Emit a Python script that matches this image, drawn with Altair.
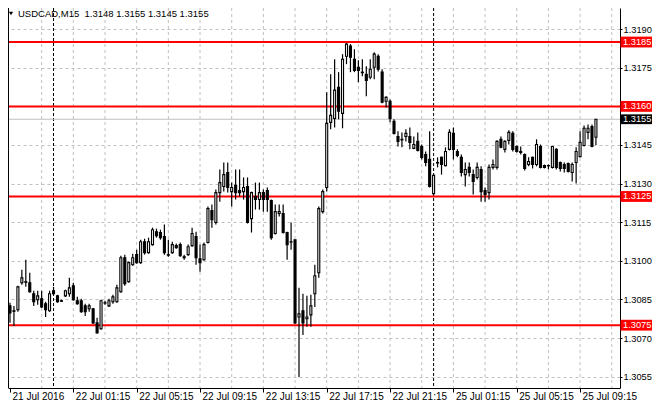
import altair as alt
import pandas as pd

symbol = "USDCAD,M15"

opens = [
    1.30825, 1.30806, 1.30810, 1.30915, 1.30919, 1.30915, 1.30872, 1.30849, 1.30853, 1.30833,
    1.30806, 1.30884, 1.30864, 1.30845, 1.30864, 1.30872, 1.30903, 1.30845, 1.30845, 1.30825,
    1.30814, 1.30814, 1.30759, 1.30736, 1.30837, 1.30825, 1.30841, 1.30841, 1.30880, 1.31012,
    1.30919, 1.30985, 1.31024, 1.30993, 1.31074, 1.31032, 1.31063, 1.31113, 1.31110, 1.31094,
    1.31024, 1.31032, 1.31059, 1.31063, 1.31012, 1.31024, 1.31059, 1.31094, 1.31008, 1.31004,
    1.31071, 1.31195, 1.31149, 1.31265, 1.31289, 1.31343, 1.31269, 1.31293, 1.31273, 1.31269,
    1.31289, 1.31164, 1.31250, 1.31238, 1.31265, 1.31273, 1.31234, 1.31106, 1.31184, 1.31184,
    1.31110, 1.31074, 1.31082, 1.30782, 1.30806, 1.30775, 1.30790, 1.30872, 1.30954, 1.31191,
    1.31285, 1.31538, 1.31553, 1.31674, 1.31573, 1.31795, 1.31834, 1.31783, 1.31752, 1.31733,
    1.31725, 1.31713, 1.31752, 1.31795, 1.31733, 1.31620, 1.31620, 1.31542, 1.31483, 1.31472,
    1.31483, 1.31483, 1.31437, 1.31464, 1.31444, 1.31413, 1.31394, 1.31261, 1.31382, 1.31402,
    1.31370, 1.31433, 1.31495, 1.31425, 1.31402, 1.31335, 1.31363, 1.31335, 1.31324, 1.31355,
    1.31273, 1.31265, 1.31363, 1.31363, 1.31472, 1.31433, 1.31468, 1.31495, 1.31444, 1.31425,
    1.31413, 1.31374, 1.31402, 1.31374, 1.31444, 1.31370, 1.31370, 1.31363, 1.31433, 1.31382,
    1.31374, 1.31378, 1.31343, 1.31382, 1.31405, 1.31448, 1.31499, 1.31522, 1.31480,
]
highs = [
    1.30837, 1.30825, 1.30903, 1.30965, 1.31004, 1.30954, 1.30884, 1.30884, 1.30884, 1.30841,
    1.30884, 1.30899, 1.30868, 1.30849, 1.30888, 1.30934, 1.30915, 1.30860, 1.30853, 1.30833,
    1.30833, 1.30817, 1.30779, 1.30849, 1.30845, 1.30853, 1.30868, 1.30907, 1.31020, 1.31024,
    1.30997, 1.31028, 1.31043, 1.31082, 1.31086, 1.31090, 1.31129, 1.31125, 1.31121, 1.31141,
    1.31082, 1.31074, 1.31067, 1.31071, 1.31024, 1.31063, 1.31129, 1.31113, 1.31063, 1.31071,
    1.31211, 1.31219, 1.31277, 1.31355, 1.31382, 1.31382, 1.31304, 1.31355, 1.31355, 1.31324,
    1.31324, 1.31269, 1.31304, 1.31304, 1.31277, 1.31285, 1.31238, 1.31219, 1.31219, 1.31219,
    1.31113, 1.31149, 1.31082, 1.30895, 1.30872, 1.30864, 1.30868, 1.30985, 1.31211, 1.31277,
    1.31655, 1.31725, 1.31783, 1.31733, 1.31803, 1.31846, 1.31842, 1.31822, 1.31779, 1.31783,
    1.31756, 1.31783, 1.31810, 1.31803, 1.31744, 1.31639, 1.31627, 1.31550, 1.31503, 1.31499,
    1.31511, 1.31518, 1.31483, 1.31499, 1.31452, 1.31425, 1.31503, 1.31335, 1.31402, 1.31405,
    1.31441, 1.31511, 1.31518, 1.31433, 1.31413, 1.31382, 1.31382, 1.31355, 1.31382, 1.31367,
    1.31285, 1.31374, 1.31394, 1.31468, 1.31483, 1.31468, 1.31507, 1.31503, 1.31448, 1.31444,
    1.31417, 1.31402, 1.31405, 1.31472, 1.31452, 1.31374, 1.31374, 1.31446, 1.31437, 1.31386,
    1.31382, 1.31382, 1.31382, 1.31441, 1.31503, 1.31526, 1.31530, 1.31530, 1.31550,
]
lows = [
    1.30759, 1.30747, 1.30802, 1.30907, 1.30899, 1.30876, 1.30825, 1.30829, 1.30817, 1.30782,
    1.30802, 1.30868, 1.30837, 1.30841, 1.30860, 1.30860, 1.30845, 1.30829, 1.30798, 1.30786,
    1.30802, 1.30755, 1.30718, 1.30732, 1.30829, 1.30821, 1.30833, 1.30837, 1.30876, 1.30903,
    1.30915, 1.30981, 1.30989, 1.30989, 1.31024, 1.31028, 1.31059, 1.31090, 1.31082, 1.31024,
    1.31016, 1.31028, 1.31047, 1.31016, 1.31004, 1.31020, 1.31055, 1.30985, 1.30958, 1.31000,
    1.31067, 1.31129, 1.31141, 1.31230, 1.31269, 1.31265, 1.31211, 1.31238, 1.31250, 1.31238,
    1.31145, 1.31110, 1.31199, 1.31199, 1.31191, 1.31191, 1.31082, 1.31102, 1.31172, 1.31106,
    1.31004, 1.31043, 1.30755, 1.30549, 1.30712, 1.30744, 1.30744, 1.30821, 1.30934, 1.31184,
    1.31269, 1.31511, 1.31518, 1.31550, 1.31515, 1.31764, 1.31733, 1.31733, 1.31694, 1.31717,
    1.31639, 1.31705, 1.31705, 1.31736, 1.31612, 1.31596, 1.31538, 1.31491, 1.31444, 1.31441,
    1.31464, 1.31433, 1.31433, 1.31425, 1.31394, 1.31367, 1.31285, 1.31258, 1.31363, 1.31335,
    1.31367, 1.31429, 1.31394, 1.31402, 1.31328, 1.31289, 1.31328, 1.31258, 1.31316, 1.31230,
    1.31230, 1.31238, 1.31355, 1.31355, 1.31437, 1.31421, 1.31452, 1.31425, 1.31421, 1.31413,
    1.31351, 1.31367, 1.31359, 1.31367, 1.31359, 1.31359, 1.31355, 1.31359, 1.31355, 1.31347,
    1.31343, 1.31343, 1.31308, 1.31300, 1.31402, 1.31444, 1.31472, 1.31441, 1.31450,
]
closes = [
    1.30798, 1.30804, 1.30899, 1.30934, 1.30917, 1.30880, 1.30841, 1.30864, 1.30821, 1.30810,
    1.30872, 1.30872, 1.30841, 1.30843, 1.30884, 1.30895, 1.30849, 1.30833, 1.30802, 1.30802,
    1.30825, 1.30759, 1.30720, 1.30845, 1.30836, 1.30845, 1.30860, 1.30895, 1.31012, 1.30911,
    1.30993, 1.31012, 1.30993, 1.31074, 1.31032, 1.31074, 1.31121, 1.31098, 1.31090, 1.31032,
    1.31022, 1.31063, 1.31051, 1.31020, 1.31016, 1.31055, 1.31106, 1.31012, 1.30993, 1.31063,
    1.31203, 1.31160, 1.31265, 1.31304, 1.31335, 1.31285, 1.31285, 1.31265, 1.31265, 1.31285,
    1.31149, 1.31265, 1.31238, 1.31265, 1.31238, 1.31238, 1.31090, 1.31191, 1.31191, 1.31110,
    1.31063, 1.31073, 1.30759, 1.30794, 1.30759, 1.30782, 1.30825, 1.30942, 1.31203, 1.31269,
    1.31534, 1.31565, 1.31663, 1.31581, 1.31783, 1.31842, 1.31791, 1.31740, 1.31740, 1.31731,
    1.31701, 1.31744, 1.31803, 1.31744, 1.31616, 1.31635, 1.31553, 1.31495, 1.31464, 1.31470,
    1.31495, 1.31460, 1.31452, 1.31429, 1.31402, 1.31382, 1.31289, 1.31332, 1.31380, 1.31374,
    1.31425, 1.31499, 1.31433, 1.31409, 1.31343, 1.31355, 1.31343, 1.31308, 1.31363, 1.31269,
    1.31258, 1.31363, 1.31374, 1.31464, 1.31441, 1.31464, 1.31499, 1.31433, 1.31425, 1.31421,
    1.31359, 1.31386, 1.31374, 1.31452, 1.31363, 1.31363, 1.31369, 1.31444, 1.31363, 1.31359,
    1.31359, 1.31347, 1.31374, 1.31425, 1.31460, 1.31515, 1.31515, 1.31444, 1.31550,
]

# time axis (bar index of each labelled tick)
tick_bars = [0, 16, 32, 48, 64, 80, 96, 112, 128, 144]
tick_labels = ["21 Jul 2016", "22 Jul 01:15", "22 Jul 05:15", "22 Jul 09:15", "22 Jul 13:15",
               "22 Jul 17:15", "22 Jul 21:15", "25 Jul 01:15", "25 Jul 05:15", "25 Jul 09:15"]
grid_bars = [8, 16, 24, 32, 40, 48, 56, 64, 72, 80, 88, 96, 104, 112, 120, 128, 136, 144, 152]
day_breaks = [11, 107]

price_ticks = [1.3055, 1.3070, 1.3085, 1.3100, 1.3115, 1.3130, 1.3145, 1.3160, 1.3175, 1.3190]
levels = [1.3185, 1.3160, 1.3125, 1.3075]

FONT = "Liberation Sans"
W, H = 612, 380

df = pd.DataFrame({"bar": list(range(len(opens))), "open": opens, "high": highs,
                   "low": lows, "close": closes})
df["dir"] = ["up" if c >= o else "down" for o, c in zip(opens, closes)]

xs = alt.Scale(domain=[-0.5, 154.08], nice=False, zero=False, padding=0)
ys = alt.Scale(domain=[1.305060, 1.319822], nice=False, zero=False, padding=0)

label_js = "[" + ",".join("'%s'" % t for t in tick_labels) + "]"
xaxis = alt.Axis(values=tick_bars, labelExpr=label_js + "[round(datum.value/16)]",
                 labelAlign="left", labelBaseline="top", labelFlush=False, labelOverlap=False,
                 labelBound=False, labelOffset=2, labelPadding=-1, labelFont=FONT,
                 labelFontSize=10, labelColor="black", tickColor="black", tickSize=4,
                 domainColor="black", grid=False, title=None, zindex=0)
yaxis = alt.Axis(orient="right", values=price_ticks, format=".4f", grid=True,
                 gridColor="#c0c0c0", gridDash=[3, 3], domainColor="black", tickColor="black",
                 tickSize=2, labelPadding=1, labelFont=FONT, labelFontSize=9.3,
                 labelColor="black", labelOverlap=False, labelFlush=False, title=None, zindex=0)

X = lambda f: alt.X(f, type="quantitative", scale=xs, axis=xaxis)
Y = lambda f: alt.Y(f, type="quantitative", scale=ys, axis=yaxis)

base = alt.Chart(df)

vgrid = alt.Chart(pd.DataFrame({"bar": grid_bars})).mark_rule(
    color="#c0c0c0", strokeDash=[3, 3], strokeWidth=1).encode(x=X("bar"))
days = alt.Chart(pd.DataFrame({"bar": day_breaks})).mark_rule(
    color="black", strokeDash=[3, 2], strokeWidth=1).encode(x=X("bar"))
left_border = alt.Chart(pd.DataFrame({"bar": [0]})).mark_rule(
    color="black", strokeWidth=1).encode(x=alt.value(0.5))

cur = pd.DataFrame({"level": [closes[-1]]})
cur["lo"] = cur["level"] - 0.00019
cur["hi"] = cur["level"] + 0.00019
cur_line = alt.Chart(cur).mark_rule(color="#c0c0c0", strokeWidth=1).encode(y=Y("level"))

lv = pd.DataFrame({"level": levels})
lv["lo"] = lv["level"] - 0.00021
lv["hi"] = lv["level"] + 0.00021
level_lines = alt.Chart(lv).mark_rule(color="#ff0000", strokeWidth=2).encode(y=Y("level"))

wicks = base.mark_rule(color="black", strokeWidth=1.2).encode(
    x=X("bar"), y=Y("low"), y2="high")
bodies = base.mark_bar(size=2, stroke="black", strokeWidth=1.1).encode(
    x=X("bar"), y=Y("open"), y2="close",
    fill=alt.Fill("dir:N", scale=alt.Scale(domain=["up", "down"], range=["white", "black"]),
                  legend=None))

level_box = alt.Chart(lv).mark_rect(color="#ff0000").encode(
    x=alt.value(612.5), x2=alt.value(644), y=Y("lo"), y2="hi")
level_txt = alt.Chart(lv).mark_text(align="left", baseline="middle", font=FONT,
                                    fontSize=9.3, color="white").encode(
    x=alt.value(615), y=Y("level"), text=alt.Text("level:Q", format=".4f"))
cur_box = alt.Chart(cur).mark_rect(color="black").encode(
    x=alt.value(612.5), x2=alt.value(644), y=Y("lo"), y2="hi")
cur_txt = alt.Chart(cur).mark_text(align="left", baseline="middle", font=FONT,
                                   fontSize=9.3, color="white").encode(
    x=alt.value(615), y=Y("level"), text=alt.Text("level:Q", format=".4f"))

title_text = "%s \u00a0%.4f %.4f %.4f %.4f" % (symbol, opens[-1], highs[-1], lows[-1], closes[-1])
tdf = pd.DataFrame({"t": [title_text]})
title_mark = alt.Chart(tdf).mark_text(align="left", baseline="top", font=FONT,
                                      fontSize=9.5, color="black").encode(
    x=alt.value(10), y=alt.value(1), text="t:N")
tri = alt.Chart(tdf).mark_point(shape="triangle-down", filled=True, size=18,
                                color="black", opacity=1).encode(
    x=alt.value(3), y=alt.value(5.5))

chart = alt.layer(
    vgrid, days, cur_line, level_lines, left_border, wicks, bodies,
    level_box, level_txt, cur_box, cur_txt, title_mark, tri,
).properties(
    width=W, height=H,
    padding={"left": 0, "top": 0, "right": 32, "bottom": 14},
    autosize=alt.AutoSizeParams(type="none"),
    background="white",
).configure_view(stroke=None)

chart.save("out.html", embed_options={"renderer": "svg", "actions": False})
